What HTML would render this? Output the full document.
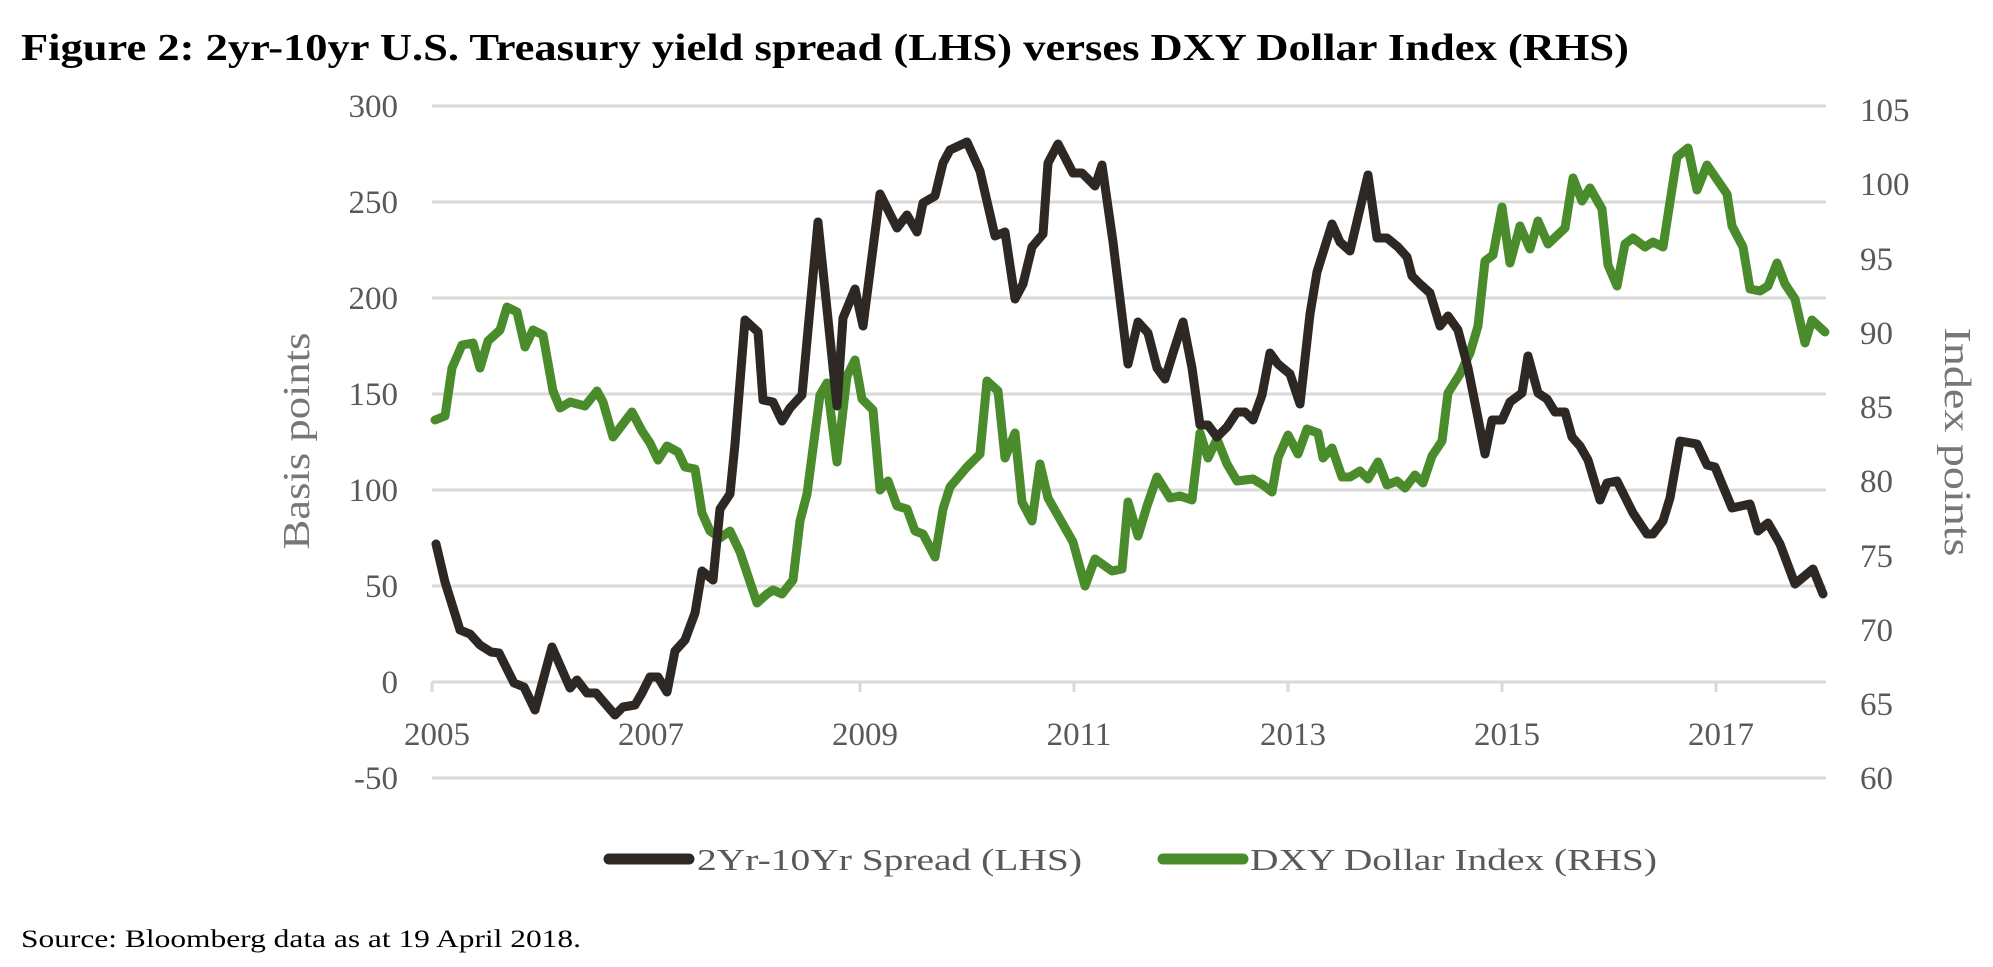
<!DOCTYPE html>
<html><head><meta charset="utf-8"><style>
html,body{margin:0;padding:0;background:#fff;}
svg{display:block;}
</style></head><body>
<svg width="1993" height="967" viewBox="0 0 1993 967" xmlns="http://www.w3.org/2000/svg" font-family="'Liberation Serif', serif">
<text x="21" y="60" font-size="38" font-weight="bold" fill="#000" textLength="1608" lengthAdjust="spacingAndGlyphs">Figure 2: 2yr-10yr U.S. Treasury yield spread (LHS) verses DXY Dollar Index (RHS)</text>
<g stroke="#d9d9d9" stroke-width="3">
<line x1="432" x2="1826" y1="106" y2="106"/><line x1="432" x2="1826" y1="202" y2="202"/>
<line x1="432" x2="1826" y1="298" y2="298"/><line x1="432" x2="1826" y1="394" y2="394"/>
<line x1="432" x2="1826" y1="490" y2="490"/><line x1="432" x2="1826" y1="586" y2="586"/>
<line x1="432" x2="1826" y1="682" y2="682"/><line x1="432" x2="1826" y1="778" y2="778"/>
<line x1="432" x2="432" y1="682" y2="692"/><line x1="646" x2="646" y1="682" y2="692"/>
<line x1="860" x2="860" y1="682" y2="692"/><line x1="1074" x2="1074" y1="682" y2="692"/>
<line x1="1288" x2="1288" y1="682" y2="692"/><line x1="1502" x2="1502" y1="682" y2="692"/>
<line x1="1716" x2="1716" y1="682" y2="692"/>
</g>
<g font-size="33" fill="#595959" text-anchor="end">
<text x="398" y="117">300</text><text x="398" y="213">250</text><text x="398" y="309">200</text>
<text x="398" y="405">150</text><text x="398" y="501">100</text><text x="398" y="597">50</text>
<text x="398" y="693">0</text><text x="398" y="789">-50</text>
</g>
<g font-size="33" fill="#595959">
<text x="1860" y="121">105</text><text x="1860" y="195">100</text><text x="1860" y="270">95</text>
<text x="1860" y="344">90</text><text x="1860" y="418">85</text><text x="1860" y="492">80</text>
<text x="1860" y="567">75</text><text x="1860" y="641">70</text><text x="1860" y="715">65</text>
<text x="1860" y="789">60</text>
</g>
<g font-size="33" fill="#595959" text-anchor="middle">
<text x="437" y="745">2005</text><text x="651" y="745">2007</text><text x="865" y="745">2009</text>
<text x="1079" y="745">2011</text><text x="1293" y="745">2013</text><text x="1507" y="745">2015</text>
<text x="1721" y="745">2017</text>
</g>
<text transform="translate(309,441) rotate(-90)" font-size="38" fill="#777" text-anchor="middle" textLength="217" lengthAdjust="spacingAndGlyphs">Basis points</text>
<text transform="translate(1945,442) rotate(90)" font-size="38" fill="#777" text-anchor="middle" textLength="229" lengthAdjust="spacingAndGlyphs">Index points</text>
<g fill="none" stroke-width="9" stroke-linejoin="round" stroke-linecap="round">
<polyline stroke="#4a8c2b" points="435,420 445,416 452,368 462,345 473,343 480,368 488,341 500,330 507,307 517,312 525,347 533,330 543,335 553,391 560,408 570,402 585,406 597,391 603,402 613,437 632,412 642,431 650,443 658,460 667,446 678,452 685,467 695,469 702,513 710,531 720,538 730,531 740,552 757,603 767,594 773,590 782,594 793,580 800,521 807,494 820,395 827,383 837,462 847,376 855,360 862,399 873,410 880,490 888,481 897,506 907,509 915,531 923,534 935,557 943,509 950,487 967,467 980,454 987,381 998,391 1005,458 1015,433 1022,502 1032,521 1040,464 1048,498 1073,542 1085,586 1095,559 1112,571 1122,569 1128,502 1138,536 1147,506 1157,477 1170,498 1180,496 1192,500 1200,433 1208,458 1217,439 1227,464 1237,481 1253,479 1263,485 1272,492 1278,458 1288,435 1298,454 1307,429 1318,433 1323,458 1332,448 1342,477 1350,477 1360,471 1368,479 1378,462 1387,485 1397,481 1405,488 1415,475 1423,483 1432,456 1442,441 1448,393 1460,374 1470,353 1478,326 1485,261 1493,255 1502,207 1510,263 1520,226 1530,249 1538,221 1548,244 1565,228 1573,178 1582,201 1590,188 1602,209 1608,265 1617,286 1625,244 1633,238 1645,247 1653,242 1663,247 1677,157 1688,148 1697,190 1707,165 1727,194 1732,226 1743,247 1750,289 1760,291 1768,286 1777,263 1785,284 1795,299 1805,343 1812,320 1825,332"/>
<polyline stroke="#2d2824" points="436,544 445,582 460,630 470,634 480,645 491,652 499,653 514,683 524,687 535,710 552,647 570,688 577,680 587,693 596,693 615,715 623,707 635,705 642,693 650,677 658,677 667,692 675,651 685,640 695,613 702,571 713,580 720,509 730,494 735,444 745,320 758,332 763,400 773,402 782,421 790,408 802,395 818,222 837,406 843,318 855,289 863,326 880,194 897,228 907,215 917,232 923,203 935,196 943,163 950,150 967,142 980,171 995,236 1005,232 1015,299 1023,284 1032,247 1043,234 1048,163 1058,144 1073,173 1082,173 1095,186 1102,165 1113,242 1128,364 1138,322 1148,333 1157,368 1165,379 1173,353 1183,322 1192,368 1200,425 1208,425 1217,437 1227,427 1237,412 1245,412 1253,420 1262,395 1270,353 1278,364 1290,374 1300,404 1310,314 1317,272 1332,224 1340,242 1350,251 1368,175 1377,238 1387,238 1398,247 1407,257 1412,276 1420,284 1430,293 1440,326 1448,316 1458,330 1468,368 1478,418 1485,454 1492,420 1502,420 1510,402 1522,393 1528,356 1538,393 1547,399 1555,412 1565,412 1572,437 1580,446 1588,460 1600,500 1607,483 1617,481 1633,513 1647,534 1653,534 1663,521 1670,498 1680,441 1697,444 1707,465 1715,467 1732,508 1750,504 1758,531 1768,523 1780,544 1795,584 1813,569 1823,594"/>
</g>
<line x1="609" x2="689" y1="859" y2="859" stroke="#2d2824" stroke-width="11" stroke-linecap="round"/>
<text x="697" y="870" font-size="31" fill="#595959" textLength="385" lengthAdjust="spacingAndGlyphs">2Yr-10Yr Spread (LHS)</text>
<line x1="1163" x2="1243" y1="859" y2="859" stroke="#4a8c2b" stroke-width="11" stroke-linecap="round"/>
<text x="1250" y="870" font-size="31" fill="#595959" textLength="407" lengthAdjust="spacingAndGlyphs">DXY Dollar Index (RHS)</text>
<text x="21" y="947" font-size="25" fill="#000" textLength="560" lengthAdjust="spacingAndGlyphs">Source: Bloomberg data as at 19 April 2018.</text>
</svg>
</body></html>
